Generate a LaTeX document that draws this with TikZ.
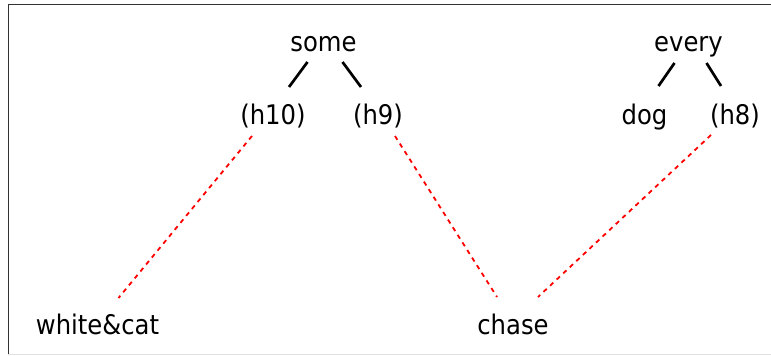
\documentclass[tikz,border=0pt]{standalone}
\usepackage{fontspec}
\usepackage{tikz}
\usetikzlibrary{calc}
\newfontfamily\treefont{DejaVu Sans Condensed}
\definecolor{framedark}{RGB}{50,50,50}
\definecolor{framelight}{RGB}{225,225,225}

\begin{document}
\begin{tikzpicture}[x=1pt,y=-1pt,
  w/.style={inner sep=0pt,anchor=base,font=\treefont\fontsize{27}{30}\selectfont},
  tree/.style={line width=2.7pt},
  link/.style={red,line width=1.8pt,dash pattern=on 4.5pt off 4.5pt}]
\useasboundingbox (0,0) rectangle (771,356);
% frame
\draw[framedark,line width=1.8pt] (8.5,355) -- (8.5,4.5) -- (771,4.5);
\draw[framelight,line width=1pt] (8,354.5) -- (771,354.5);
% quantifier trees
\node[w] (some) at (323.5,51) {some};
\node[w] (hten) at (273,124) {(h10)};
\node[w] (hnine) at (378,124) {(h9)};
\node[w] (every) at (688.5,51) {every};
\node[w] (dog) at (644.5,124) {dog};
\node[w] (height) at (735,124) {(h8)};
% predicates
\node[w] (whitecat) at (97.5,334) {white\&cat};
\node[w] (chase) at (513,334) {chase};
\draw[tree] ($(some.base)+(-16,11)$) -- ($(hten.base)+(16,-37)$);
\draw[tree] ($(some.base)+(19,11)$) -- ($(hnine.base)+(-17,-37)$);
\draw[tree] ($(every.base)+(-14,12)$) -- ($(dog.base)+(14,-38)$);
\draw[tree] ($(every.base)+(18,12)$) -- ($(height.base)+(-14,-38)$);
% qeq links
\draw[link] ($(hten.base)+(-21,12)$) -- ($(whitecat.base)+(21,-36)$);
\draw[link] ($(hnine.base)+(17,12)$) -- ($(chase.base)+(-16,-37)$);
\draw[link] ($(height.base)+(-24,11)$) -- ($(chase.base)+(25,-37)$);
\end{tikzpicture}
\end{document}
